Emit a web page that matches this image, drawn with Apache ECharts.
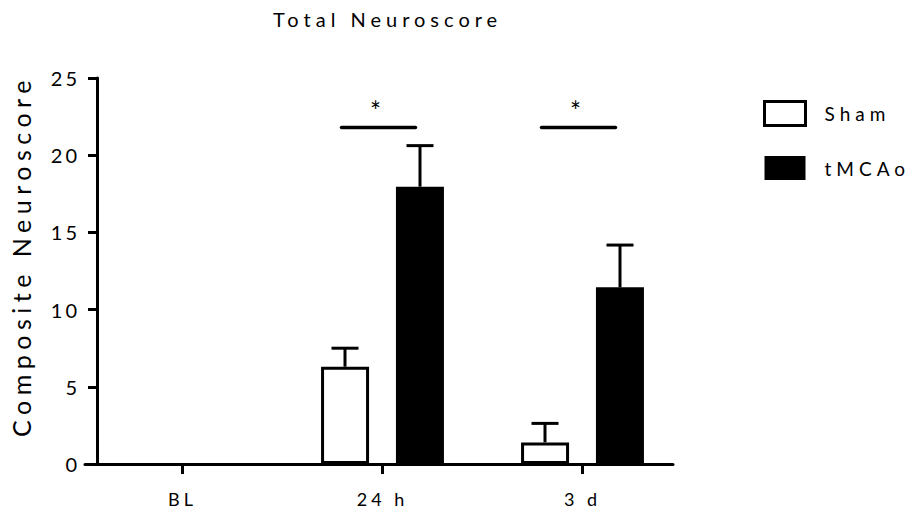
<!DOCTYPE html>
<html>
<head>
<meta charset="utf-8">
<script src="https://cdn.jsdelivr.net/npm/echarts@6/dist/echarts.min.js"></script>
<style>html,body{margin:0;padding:0;background:#fff;}#c{width:915px;height:517px;}</style>
</head>
<body>
<div id="c"></div>
<script>
// ---- data ----
const categories = ['BL', '24 h', '3 d'];
const shamMean = [0, 6.3, 1.4];
const shamSem = [0, 1.2, 1.23];
const tmcaoMean = [0, 17.96, 11.44];
const tmcaoSem = [0, 2.66, 2.74];
const yMin = 0, yMax = 25, yStep = 5;
const sigCategories = [1, 2];
const sigLineLevel = 21.8;
const sigStarLevel = 23.0;
const sigLabel = '*';

const FONT = 'Lato';
const BLACK = '#000';

function errData(mean, sem) { return categories.map((c, i) => [i, mean[i], sem[i]]); }
// zero-height bars would otherwise leave a stroked sliver on the axis
function barData(mean) { return mean.map(v => (v === 0 ? '-' : v)); }

function errRender(offsetPx) {
  return function (params, api) {
    const i = api.value(0), m = api.value(1), e = api.value(2);
    if (!e) return null;
    const p0 = api.coord([i, m]);
    const p1 = api.coord([i, m + e]);
    const x = p0[0] + offsetPx;
    return {
      type: 'group',
      children: [
        { type: 'line', shape: { x1: x, y1: p0[1], x2: x, y2: p1[1] }, style: { stroke: BLACK, lineWidth: 3 } },
        { type: 'line', shape: { x1: x - 13.5, y1: p1[1], x2: x + 13.5, y2: p1[1] }, style: { stroke: BLACK, lineWidth: 3 } }
      ]
    };
  };
}

const chart = echarts.init(document.getElementById('c'), null, { renderer: 'svg' });
chart.setOption({
  animation: false,
  backgroundColor: '#fff',
  title: {
    text: 'Total Neuroscore', left: 268, top: 4,
    textStyle: { fontFamily: FONT, fontSize: 20, fontWeight: 'normal', color: BLACK }
  },
  legend: {
    orient: 'vertical', left: 758, top: 95, itemWidth: 41, itemHeight: 24, itemGap: 29,
    icon: 'rect', selectedMode: false,
    data: [
      { name: 'Sham', itemStyle: { color: '#fff', borderColor: BLACK, borderWidth: 3 } },
      { name: 'tMCAo', itemStyle: { color: BLACK, borderColor: BLACK, borderWidth: 0 } }
    ],
    textStyle: { fontFamily: FONT, fontSize: 19, color: BLACK, padding: [0, 0, 0, 14] }
  },
  grid: [
    { left: 83, width: 590, top: 78, height: 386 },
    { left: 82.5, width: 600, top: 78, height: 386 }
  ],
  xAxis: [
    { gridIndex: 0, type: 'value', min: 0, max: 1,
      axisLine: { show: true, lineStyle: { color: BLACK, width: 3 } },
      axisTick: { show: false }, axisLabel: { show: false }, splitLine: { show: false } },
    { gridIndex: 1, type: 'category', data: categories,
      axisLine: { show: false },
      axisTick: { show: true, alignWithLabel: true, length: 10, lineStyle: { color: BLACK, width: 3 } },
      axisLabel: { fontFamily: FONT, fontSize: 18, color: BLACK, margin: 26 },
      splitLine: { show: false } }
  ],
  yAxis: [
    { gridIndex: 0, type: 'value', min: yMin, max: yMax, interval: yStep, offset: -12,
      axisLine: { show: true, lineStyle: { color: BLACK, width: 3 } },
      axisTick: { show: true, length: 9, lineStyle: { color: BLACK, width: 3 } },
      axisLabel: { fontFamily: FONT, fontSize: 20, color: BLACK, margin: 17, padding: [11, 0, 0, 0] },
      splitLine: { show: false },
      name: 'Composite Neuroscore', nameLocation: 'middle', nameGap: 64,
      nameTextStyle: { fontFamily: FONT, fontSize: 25, color: BLACK, padding: [0, 0, 0, 30] } },
    { gridIndex: 1, type: 'value', min: yMin, max: yMax, interval: yStep, show: false }
  ],
  series: [
    { name: 'Sham', type: 'bar', xAxisIndex: 1, yAxisIndex: 1, data: barData(shamMean),
      barWidth: 48, barGap: '56%',
      itemStyle: { color: '#fff', borderColor: BLACK, borderWidth: 3 } },
    { name: 'tMCAo', type: 'bar', xAxisIndex: 1, yAxisIndex: 1, data: barData(tmcaoMean),
      barWidth: 48, barGap: '56%',
      itemStyle: { color: BLACK, borderColor: BLACK, borderWidth: 0 } },
    { type: 'custom', xAxisIndex: 1, yAxisIndex: 1, data: errData(shamMean, shamSem),
      renderItem: errRender(-37.5), z: 5 },
    { type: 'custom', xAxisIndex: 1, yAxisIndex: 1, data: errData(tmcaoMean, tmcaoSem),
      renderItem: errRender(37.5), z: 5 },
    { type: 'custom', xAxisIndex: 1, yAxisIndex: 1,
      data: sigCategories.map(i => [i, sigLineLevel, sigStarLevel]),
      renderItem: function (params, api) {
        const i = api.value(0);
        const pl = api.coord([i, api.value(1)]);
        const ps = api.coord([i, api.value(2)]);
        return {
          type: 'group',
          children: [
            { type: 'line', shape: { x1: pl[0] - 41, y1: pl[1], x2: pl[0] + 33, y2: pl[1] },
              style: { stroke: BLACK, lineWidth: 3.5, lineCap: 'round' } },
            { type: 'text', x: ps[0] - 7, y: ps[1] + 2,
              style: { text: sigLabel, fontFamily: FONT, fontSize: 26, fill: BLACK, align: 'center', verticalAlign: 'middle' } }
          ]
        };
      }, z: 5 }
  ]
});

const spacing = { 'Total Neuroscore': 5, 'Composite Neuroscore': 5.5, 'Sham': 5, 'tMCAo': 5, 'BL': 4, '24 h': 4, '3 d': 4 };
function applySpacing() {
  document.querySelectorAll('#c svg text').forEach(t => {
    const s = t.textContent;
    let v = spacing[s];
    if (v === undefined && /^\d+$/.test(s)) v = 3;
    if (v !== undefined) t.setAttribute('letter-spacing', v + 'px');
  });
}
applySpacing();
chart.on('finished', applySpacing);
setTimeout(applySpacing, 50);
</script>
</body>
</html>
